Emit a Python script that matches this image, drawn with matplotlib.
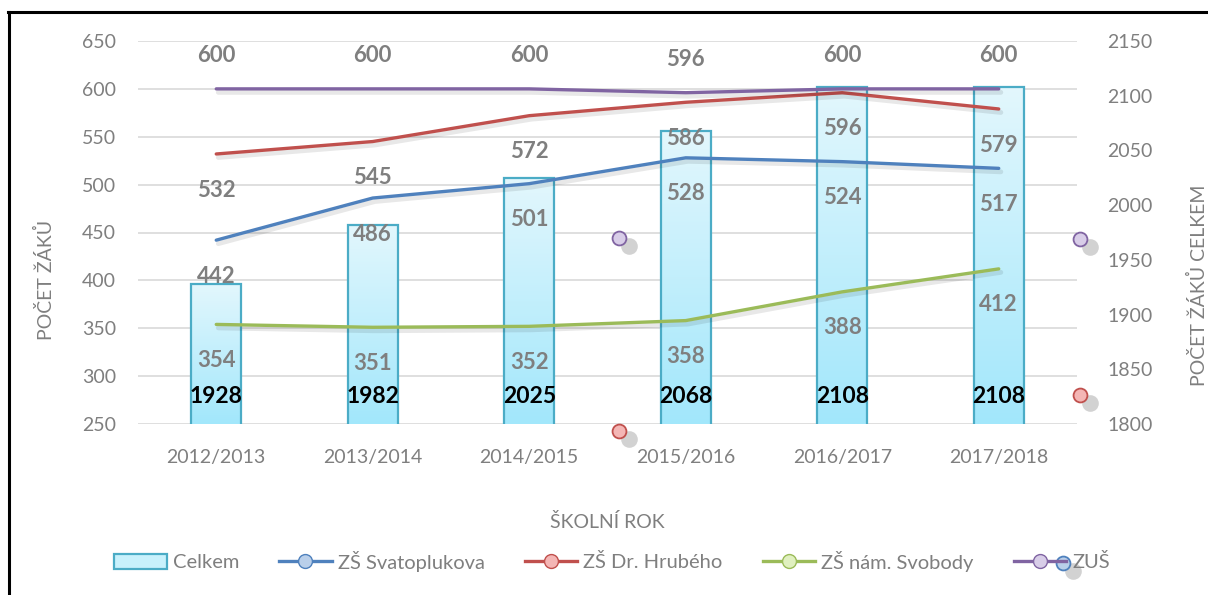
import matplotlib
matplotlib.use("Agg")
import matplotlib.pyplot as plt
import numpy as np
from matplotlib.lines import Line2D
from matplotlib.patches import Patch
from matplotlib.colors import LinearSegmentedColormap
import matplotlib.patheffects as pe

plt.rcParams['font.family'] = ['Lato', 'DejaVu Sans']

# ---- data ----
years = ["2012/2013", "2013/2014", "2014/2015", "2015/2016", "2016/2017", "2017/2018"]
celkem = [1928, 1982, 2025, 2068, 2108, 2108]
svatoplukova = [442, 486, 501, 528, 524, 517]
hrubeho = [532, 545, 572, 586, 596, 579]
svobody = [354, 351, 352, 358, 388, 412]
zus = [600, 600, 600, 596, 600, 600]

left_ticks = [250, 300, 350, 400, 450, 500, 550, 600, 650]
right_ticks = [1800, 1850, 1900, 1950, 2000, 2050, 2100, 2150]

GRAY = "#7f7f7f"
C_BLUE = "#4f81bd"
C_RED = "#c0504d"
C_GREEN = "#9bbb59"
C_PURPLE = "#8064a2"
C_AQUA = "#4bacc6"

fig = plt.figure(figsize=(12.08, 5.95), dpi=100)
W, H = 1208, 595
axb = fig.add_axes([138 / W, 1 - 424 / H, (1077 - 138) / W, (424 - 41) / H])
x = np.arange(len(years))
axl = axb.twinx()

# bars (right scale)
bars = axb.bar(x, celkem, width=0.32, facecolor="none",
               edgecolor=C_AQUA, linewidth=1.6, zorder=3)
grad = np.linspace(0, 1, 256).reshape(-1, 1)
cmap = LinearSegmentedColormap.from_list("g", ["#a2e7fb", "#e3f7fd"])
for b in bars:
    bx = b.get_x()
    bw, bh = b.get_width(), b.get_height()
    im = axb.imshow(grad, cmap=cmap, aspect="auto", origin="lower",
                    extent=[bx, bx + bw, 1800, bh], zorder=2)
    im.set_clip_path(b)
axb.set_xlim(-0.5, len(years) - 0.5)
axb.set_ylim(1800, 2150)
axb.yaxis.tick_right()
axb.set_yticks(right_ticks)
axb.set_xticks(x)
axb.set_xticklabels(years)
axb.tick_params(axis="x", length=0, labelsize=14, colors=GRAY, pad=18)
axb.tick_params(axis="y", length=0, labelsize=14, colors=GRAY, pad=22)
for s in axb.spines.values():
    s.set_visible(False)
for t in left_ticks:
    axb.axhline(1800 + (t - 250) * 350 / 400, color="#d9d9d9", linewidth=1.2, zorder=0)
for i, v in enumerate(celkem):
    axb.annotate(str(v), (x[i], 1800), xytext=(0, 20), textcoords="offset points",
                 ha="center", va="center", fontsize=16.5, fontweight="bold",
                 color="black", zorder=5)

# lines (left scale)
axl.yaxis.tick_left()
axl.set_ylim(250, 650)
axl.set_yticks(left_ticks)
axl.tick_params(axis="y", length=0, labelsize=14, colors=GRAY, pad=16)
for s in axl.spines.values():
    s.set_visible(False)
axb.set_zorder(1)
axl.set_zorder(2)
axl.patch.set_visible(False)

shadow = [pe.SimpleLineShadow(offset=(1.5, -2.5), alpha=0.09, shadow_color="black", linewidth=3.5), pe.Normal()]
series = [(svatoplukova, C_BLUE, -26), (hrubeho, C_RED, -26), (svobody, C_GREEN, -26), (zus, C_PURPLE, 24)]
for vals, col, off in series:
    axl.plot(x, vals, color=col, linewidth=2.4, solid_capstyle="round",
             path_effects=shadow, zorder=4)
    for i, v in enumerate(vals):
        axl.annotate(str(v), (x[i], v), xytext=(0, off), textcoords="offset points",
                     ha="center", va="center", fontsize=16, fontweight="bold",
                     color=GRAY, zorder=6)

# axis titles
fig.text(45 / W, 1 - 280 / H, "POČET ŽÁKŮ", rotation=90, ha="center", va="center",
         fontsize=14, color=GRAY)
fig.text(1198 / W, 1 - 285 / H, "POČET ŽÁKŮ CELKEM", rotation=90, ha="center", va="center",
         fontsize=14, color=GRAY)
fig.text(607 / W, 1 - 522 / H, "ŠKOLNÍ ROK", ha="center", va="center",
         fontsize=14, color=GRAY)

# legend
handles = [
    Patch(facecolor="#c8f1fc", edgecolor=C_AQUA, linewidth=1.6),
    Line2D([], [], color=C_BLUE, lw=2.4, marker="o", markersize=10, markerfacecolor="#b9cfea", markeredgecolor=C_BLUE),
    Line2D([], [], color=C_RED, lw=2.4, marker="o", markersize=10, markerfacecolor="#f4b6b5", markeredgecolor=C_RED),
    Line2D([], [], color=C_GREEN, lw=2.4, marker="o", markersize=10, markerfacecolor="#e0f0c0", markeredgecolor=C_GREEN),
    Line2D([], [], color=C_PURPLE, lw=2.4, marker="o", markersize=10, markerfacecolor="#d8cde8", markeredgecolor=C_PURPLE),
]
labels = ["Celkem", "ZŠ Svatoplukova", "ZŠ Dr. Hrubého", "ZŠ nám. Svobody", "ZUŠ"]
leg = fig.legend(handles, labels, loc="center", bbox_to_anchor=(0.5 + 8 / W, 1 - 561 / H), ncol=5,
                 frameon=False, fontsize=14.5, labelcolor=GRAY, handlelength=2.6,
                 handletextpad=0.3, columnspacing=2.0)

# stray marker artifacts
def stray(px, py, face, edge):
    fig.add_artist(Line2D([(px + 10) / W], [1 - (py + 8) / H], marker="o", markersize=12,
                          color="#909090", alpha=0.4, linestyle="none",
                          markeredgewidth=0, transform=fig.transFigure))
    fig.add_artist(Line2D([px / W], [1 - py / H], marker="o", markersize=10,
                          markerfacecolor=face, markeredgecolor=edge, markeredgewidth=1.3,
                          linestyle="none", transform=fig.transFigure))

stray(619, 238, "#d8cde8", C_PURPLE)
stray(619, 431, "#f4b6b5", C_RED)
stray(1080, 239, "#d8cde8", C_PURPLE)
stray(1080, 395, "#f4b6b5", C_RED)

fig.canvas.draw()
zt = leg.get_texts()[4].get_window_extent()
stray(zt.x0 - 9, H - (zt.y0 + zt.y1) / 2, "#b9cfea", C_BLUE)

# border
fig.add_artist(Line2D([9 / W, 9 / W], [0, 1 - 12 / H], color="black", lw=2.2, transform=fig.transFigure))
fig.add_artist(Line2D([8 / W, 1], [1 - 12 / H, 1 - 12 / H], color="black", lw=2.2, transform=fig.transFigure))

fig.savefig("out.png", dpi=100)
